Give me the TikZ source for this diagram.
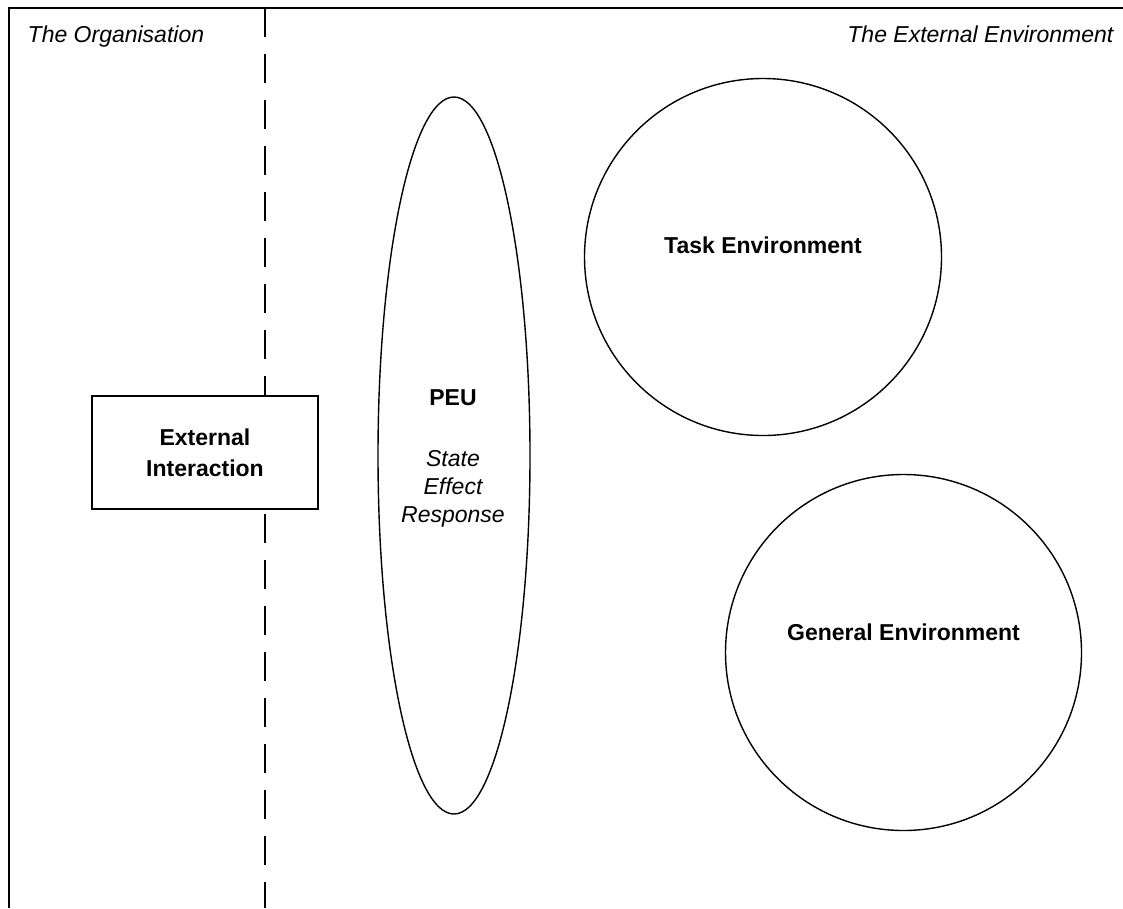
\documentclass[tikz,border=0pt]{standalone}
\usepackage{fontspec}
\setmainfont{Liberation Sans}
\usetikzlibrary{shapes.geometric}
\begin{document}
\begin{tikzpicture}[x=1pt,y=-1pt,
  line width=1.4pt,
  lbl/.style={inner sep=0pt,font=\fontsize{23}{28}\selectfont},
  hd/.style={lbl,font=\fontsize{23}{28}\selectfont\bfseries},
  it/.style={lbl,font=\fontsize{23}{28}\selectfont\itshape},
  shape outline/.style={draw,fill=white,inner sep=0pt}]
\useasboundingbox (0,0) rectangle (1123,908);

% frame: top and left edges
\coordinate (tl) at (9,8);
\coordinate (tr) at (1123,8);
\coordinate (bl) at (9,908);
\draw (tr) -- (tl) -- (bl);

% boundary between the organisation and its environment
\coordinate (divtop) at (265,8);
\coordinate (divbot) at (265,908);
\draw[dash pattern=on 29pt off 17pt] (divtop) -- (divbot);

% region titles
\node[it,anchor=base west] (org) at (27,42) {The Organisation};
\node[it,anchor=base east] (ext) at (1114,42) {The External Environment};

% external interaction box
\node[shape outline,rectangle,minimum width=226pt,minimum height=113pt] (box) at (205,452.5) {};
\node[hd,anchor=base] (boxa) at (205,445) {External};
\node[hd,anchor=base] (boxb) at (205,476) {Interaction};

% PEU ellipse
\node[shape outline,ellipse,minimum width=152pt,minimum height=717pt] (peu) at (454,455.5) {};
\node[hd,anchor=base] (peut) at (453,405) {PEU};
\node[it,anchor=base] (peu1) at (453,466) {State};
\node[it,anchor=base] (peu2) at (453,494) {Effect};
\node[it,anchor=base] (peu3) at (453,522) {Response};

% environment circles
\node[shape outline,circle,minimum size=357pt] (task) at (763,257) {};
\node[hd,anchor=base] (taskt) at (763,253) {Task Environment};
\node[shape outline,circle,minimum size=356pt] (gen) at (903.5,652.5) {};
\node[hd,anchor=base] (gent) at (903.5,640) {General Environment};
\end{tikzpicture}
\end{document}
